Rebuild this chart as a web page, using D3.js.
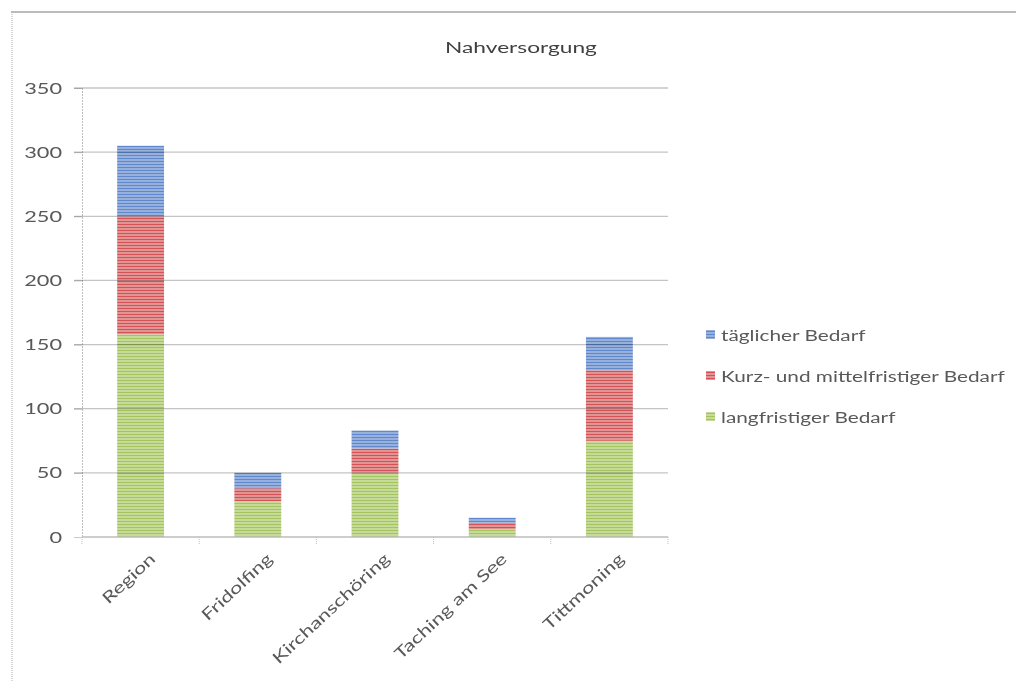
<!DOCTYPE html>
<html>
<head>
<meta charset="utf-8">
<script src="https://cdn.jsdelivr.net/npm/d3@7"></script>
<style>
  html, body { margin: 0; padding: 0; background: #fff; }
  svg { display: block; }
  text { font-family: Lato, "Open Sans", sans-serif; fill: #404040; }
</style>
</head>
<body>
<svg id="chart" width="1016" height="682"></svg>
<script>
// Chart data
const categories = ["Region", "Fridolfing", "Kirchanschöring", "Taching am See", "Tittmoning"];
const langfristig = [158, 28, 50, 6, 75];
const kurzMittel = [92, 10, 19, 5, 55];
const taeglich = [55, 12, 14, 4, 26];
const seriesNames = ["langfristiger Bedarf", "Kurz- und mittelfristiger Bedarf", "täglicher Bedarf"];
const yTicks = [0, 50, 100, 150, 200, 250, 300, 350];
const chartTitle = "Nahversorgung";

const svg = d3.select("#chart");
const W = 1016, H = 682;
const m = { left: 82, right: 668, top: 88, bottom: 537 };
const stretch = 1.36; // wide text rendering

// frame around the chart area
svg.append("line").attr("x1", 11).attr("x2", W).attr("y1", 12).attr("y2", 12)
  .attr("stroke", "#a6a6a6").attr("stroke-width", 1.5);
svg.append("line").attr("x1", 12).attr("x2", 12).attr("y1", 12).attr("y2", H)
  .attr("stroke", "#b0b0b0").attr("stroke-width", 1).attr("stroke-dasharray", "1,1");

// striped fills for each series
const fills = [
  { id: "pGreen", base: "#c6db9a", line: "#a4c45e" },
  { id: "pRed", base: "#e09494", line: "#d45256" },
  { id: "pBlue", base: "#98b0dc", line: "#6089cd" }
];
const defs = svg.append("defs");
fills.forEach(f => {
  const p = defs.append("pattern").attr("id", f.id)
    .attr("patternUnits", "userSpaceOnUse").attr("width", 4).attr("height", 3);
  p.append("rect").attr("width", 4).attr("height", 3).attr("fill", f.base);
  p.append("rect").attr("y", 2).attr("width", 4).attr("height", 1).attr("fill", f.line);
});

const x = d3.scaleBand().domain(categories).range([m.left, m.right]).paddingInner(0.6).paddingOuter(0.3);
const y = d3.scaleLinear().domain([0, 350]).range([m.bottom, m.top]);

// y axis
const yAxis = svg.append("g").attr("transform", `translate(${m.left},0)`)
  .call(d3.axisLeft(y).tickValues(yTicks).tickSize(8).tickPadding(0));
yAxis.select(".domain").attr("stroke", "#bdbdbd").attr("stroke-dasharray", "2,1");
yAxis.selectAll(".tick line").attr("stroke", "#c8c8c8");
yAxis.selectAll("text")
  .attr("x", null)
  .attr("transform", `translate(-20,0) scale(${stretch},1)`)
  .style("font-size", "16px").style("fill", "#595959");

// stacked bars
const rows = categories.map((c, i) => ({
  cat: c, s0: langfristig[i], s1: kurzMittel[i], s2: taeglich[i]
}));
const stacked = d3.stack().keys(["s0", "s1", "s2"])(rows);
svg.append("g").selectAll("g").data(stacked).join("g")
  .attr("fill", (d, i) => `url(#${fills[i].id})`)
  .selectAll("rect").data(d => d).join("rect")
  .attr("x", d => x(d.data.cat))
  .attr("width", x.bandwidth())
  .attr("y", d => y(d[1]))
  .attr("height", d => y(d[0]) - y(d[1]));

// gridlines, drawn over the bars so they tint through
svg.append("g").selectAll("line").data(yTicks.filter(t => t > 0)).join("line")
  .attr("x1", m.left - 8).attr("x2", m.right)
  .attr("y1", d => y(d)).attr("y2", d => y(d))
  .attr("stroke", "#c4c4c4").attr("stroke-width", 1.3)
  .style("mix-blend-mode", "multiply");

// x axis
const xAxisG = svg.append("g").attr("transform", `translate(0,${m.bottom})`);
xAxisG.append("line").attr("x1", m.left).attr("x2", m.right).attr("stroke", "#bdbdbd").attr("stroke-width", 1.5);
const edges = d3.range(categories.length + 1).map(i => m.left + i * (m.right - m.left) / categories.length);
xAxisG.selectAll(".tk").data(edges).join("line").attr("class", "tk")
  .attr("x1", d => d).attr("x2", d => d).attr("y1", 0).attr("y2", 8)
  .attr("stroke", "#bdbdbd").attr("stroke-dasharray", "1,1");
xAxisG.selectAll(".lbl").data(categories).join("text").attr("class", "lbl")
  .attr("transform", d => `translate(${x(d) + x.bandwidth() / 2 + 12},${19}) rotate(-43) scale(${stretch},1)`)
  .attr("text-anchor", "end")
  .attr("dy", "0.35em")
  .style("font-size", "16px").style("fill", "#595959")
  .text(d => d);

// title
svg.append("text")
  .attr("transform", `translate(521,53) scale(1.42,1)`)
  .attr("text-anchor", "middle")
  .style("font-size", "16px").style("fill", "#404040").text(chartTitle);

// legend
const legendItems = [
  { name: seriesNames[2], fill: fills[2].id },
  { name: seriesNames[1], fill: fills[1].id },
  { name: seriesNames[0], fill: fills[0].id }
];
const lg = svg.append("g").selectAll("g").data(legendItems).join("g")
  .attr("transform", (d, i) => `translate(706,${335 + i * 41})`);
lg.append("rect").attr("x", 0).attr("y", -5).attr("width", 9).attr("height", 9)
  .attr("fill", d => `url(#${d.fill})`);
lg.append("text")
  .attr("transform", `translate(15,0) scale(1.3,1)`)
  .attr("dy", "0.35em")
  .style("font-size", "16px").style("fill", "#595959").text(d => d.name);
</script>
</body>
</html>
